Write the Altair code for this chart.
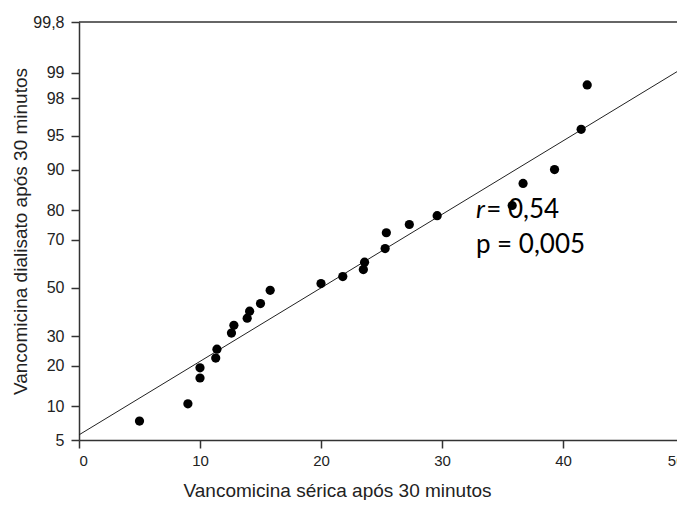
import altair as alt
import pandas as pd
from statistics import NormalDist

# ---- data ----
serica = [5.0, 9.0, 10.0, 10.0, 11.3, 11.4, 12.6, 12.8, 13.9, 14.1, 15.0, 15.8,
          20.0, 21.8, 23.5, 23.6, 25.3, 25.4, 27.3, 29.6, 35.8, 36.7, 39.3, 41.5, 42.0]
dialisato = [7.5, 10.5, 16.5, 19.4, 22.4, 25.4, 31.3, 34.3, 37.2, 40.1, 43.3, 49.0,
             51.9, 54.9, 57.9, 61.0, 66.5, 72.5, 75.4, 78.3, 81.4, 87.1, 90.0, 95.7, 98.6]

fit_x = [0, 50]
fit_y = [5.6, 99.15]

y_ticks = [5, 10, 20, 30, 50, 70, 80, 90, 95, 98, 99, 99.8]
y_tick_labels = ["5", "10", "20", "30", "50", "70", "80", "90", "95", "98", "99", "99,8"]
x_ticks = [0, 10, 20, 30, 40, 50]

ann_x = [32.8, 32.8]
ann_y = [77.4, 64.7]
ann_r = "r"
ann_rest = ["= 0,54", "p = 0,005"]

x_title = "Vancomicina sérica após 30 minutos"
y_title = "Vancomicina dialisato após 30 minutos"

W, H = 605, 418

# ---- probability (probit) scale transform ----
nd = NormalDist()
def probit(p):
    return nd.inv_cdf(p / 100.0)

pts = pd.DataFrame({"x": serica, "p": dialisato})
pts["z"] = pts["p"].map(probit)
fit = pd.DataFrame({"x": fit_x, "p": fit_y})
fit["z"] = fit["p"].map(probit)

z_ticks = [probit(v) for v in y_ticks]
zmin, zmax = z_ticks[0], z_ticks[-1]

label_expr = "''"
for zt, lab in zip(z_ticks, y_tick_labels):
    label_expr = f"abs(datum.value - ({zt:.6f})) < 0.001 ? '{lab}' : ({label_expr})"

xenc = alt.X("x:Q", scale=alt.Scale(domain=[0, 50], nice=False, zero=False),
             axis=alt.Axis(values=x_ticks, title=x_title, labelFontSize=15,
                           labelPadding=5, titleX=258, titleY=50,
                           titleAlign="center", titleBaseline="middle"))
yenc = alt.Y("z:Q", scale=alt.Scale(domain=[zmin, zmax], nice=False, zero=False),
             axis=alt.Axis(values=z_ticks, labelExpr=label_expr, title=y_title,
                           labelFontSize=16, labelPadding=7,
                           titleX=-59, titleY=H / 2, titleAngle=270,
                           titleAlign="center", titleBaseline="middle"))

line = alt.Chart(fit).mark_line(color="#222", strokeWidth=1).encode(x=xenc, y=yenc)
points = alt.Chart(pts).mark_circle(color="black", size=85, opacity=1).encode(x=xenc, y=yenc)

ann1 = pd.DataFrame({"x": [ann_x[0]], "p": [ann_y[0]], "t": [ann_r]})
ann1["z"] = ann1["p"].map(probit)
ann2 = pd.DataFrame({"x": [ann_x[0] + 0.85, ann_x[1]], "p": ann_y, "t": ann_rest})
ann2["z"] = ann2["p"].map(probit)

txt_r = alt.Chart(ann1).mark_text(font="Lato", fontSize=26, fontStyle="italic",
                                   align="left", baseline="alphabetic", color="black"
                                   ).encode(x=xenc, y=yenc, text="t:N")
txt_rest = alt.Chart(ann2).mark_text(font="Lato", fontSize=26, align="left",
                                      baseline="alphabetic", color="black"
                                      ).encode(x=xenc, y=yenc, text="t:N")

top = alt.Chart(pd.DataFrame({"a": [0]})).mark_rule(color="#333", strokeWidth=1.5).encode(
    x=alt.value(0), x2=alt.value(W), y=alt.value(0))

chart = alt.layer(line, txt_r, txt_rest, points, top).properties(
    width=W, height=H,
    autosize=alt.AutoSizeParams(type="none"),
    padding={"left": 71, "top": 14, "right": -7, "bottom": 60},
).configure_view(stroke=None).configure_axis(
    grid=False, domainColor="#333", domainWidth=1.5, tickColor="#333", tickWidth=1.5,
    tickSize=8, labelFont="Liberation Sans", labelColor="#222",
    titleFont="Liberation Sans", titleFontSize=19, titleFontWeight="normal",
    titleColor="#222",
)

chart.save("out.html", embed_options={"renderer": "svg", "actions": False})
